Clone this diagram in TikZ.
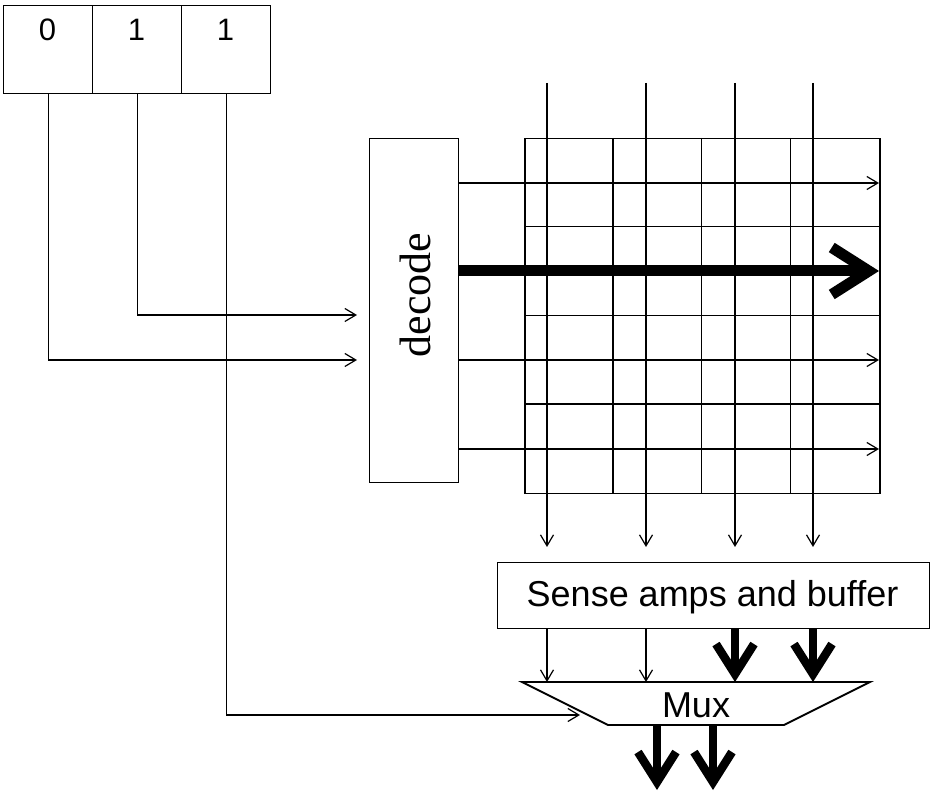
\documentclass[tikz,border=0pt]{standalone}
\usepackage{fontspec}
\setmainfont{Liberation Sans}
\newfontfamily\seriffont{Liberation Serif}
\usetikzlibrary{arrows.meta,calc}
\begin{document}
\begin{tikzpicture}[x=1pt,y=-1pt,
  box/.style={draw,line width=1.4pt,inner sep=0pt,anchor=north west},
  wire/.style={line width=1.2pt},
  gridline/.style={line width=1.5pt},
  thinarr/.style={wire,-{Straight Barb[length=11pt,width=13pt]}},
  fatarr/.style={line width=8.5pt,-{Straight Barb[length=30pt,width=38pt]}},
  hugearr/.style={line width=11pt,-{Straight Barb[length=37pt,width=47pt]}},
  biglbl/.style={font=\fontsize{36}{40}\selectfont,anchor=base,inner sep=0pt},
  digit/.style={font=\fontsize{31}{34}\selectfont,anchor=base,inner sep=0pt}]
\useasboundingbox (0,0) rectangle (930,791);

% register
\node[box,minimum width=89pt,minimum height=88pt] (reg0) at (3,5) {};
\node[box,minimum width=89pt,minimum height=88pt] (reg1) at (92,5) {};
\node[box,minimum width=89pt,minimum height=88pt] (reg2) at (181,5) {};
\node[digit] (d0) at (47.5,41) {0};
\node[digit] (d1) at (136.5,41) {1};
\node[digit] (d2) at (225.5,41) {1};

% decoder
\node[box,minimum width=89pt,minimum height=344pt] (decode) at (369,138) {};
\node[rotate=90,anchor=base,inner sep=0pt,font=\seriffont\fontsize{44}{48}\selectfont] (declbl) at (430,295) {decode};

% array
\node[box,gridline,minimum width=355pt,minimum height=355pt] (array) at (524,138) {};
\foreach \i in {1,2,3} {
  \draw[gridline] ($(array.north west)+(88.75*\i,0)$) -- ($(array.south west)+(88.75*\i,0)$);
  \draw[gridline] ($(array.north west)+(0,88.75*\i)$) -- ($(array.north east)+(0,88.75*\i)$);
}

% word lines
\coordinate (w1) at (879,183);
\coordinate (w2) at (879,271);
\coordinate (w3) at (879,360);
\coordinate (w4) at (879,449);
\draw[thinarr] (decode.east |- w1) -- (w1);
\draw[hugearr] (decode.east |- w2) -- (w2);
\draw[thinarr] (decode.east |- w3) -- (w3);
\draw[thinarr] (decode.east |- w4) -- (w4);

% bit lines
\foreach \n/\x in {1/547,2/646,3/735,4/813} {
  \coordinate (bt\n) at (\x,83);
  \coordinate (bb\n) at (\x,547);
  \draw[thinarr] (bt\n) -- (bb\n);
}

% sense amps
\node[box,minimum width=432pt,minimum height=66pt] (sense) at (497,562) {};
\node[biglbl] (senselbl) at (712.5,606) {Sense amps and buffer};

% mux
\coordinate (mtl) at (522,682);
\coordinate (mtr) at (870,682);
\coordinate (mbr) at (784,725);
\coordinate (mbl) at (608,725);
\draw[line width=1.8pt,line join=miter] (mtl) -- (mtr) -- (mbr) -- (mbl) -- cycle;
\draw[line width=2.4pt] (mtl) -- (mtr);
\node[biglbl] (mux) at (696,717) {Mux};

% sense -> mux
\draw[thinarr] (sense.south -| bt1) -- (mtl -| bt1);
\draw[thinarr] (sense.south -| bt2) -- (mtl -| bt2);
\draw[fatarr] (sense.south -| bt3) -- (mtl -| bt3);
\draw[fatarr] (sense.south -| bt4) -- (mtl -| bt4);

% mux outputs
\coordinate (o1) at (657,790);
\coordinate (o2) at (713,790);
\draw[fatarr] (mbl -| o1) -- (o1);
\draw[fatarr] (mbl -| o2) -- (o2);

% select lines
\coordinate (s0) at (357,360);
\coordinate (s1) at (357,315);
\coordinate (s2) at (580,715);
\draw[thinarr] (reg0.south) |- (s0);
\draw[thinarr] (reg1.south) |- (s1);
\draw[thinarr] (reg2.south) |- (s2);
\end{tikzpicture}
\end{document}
